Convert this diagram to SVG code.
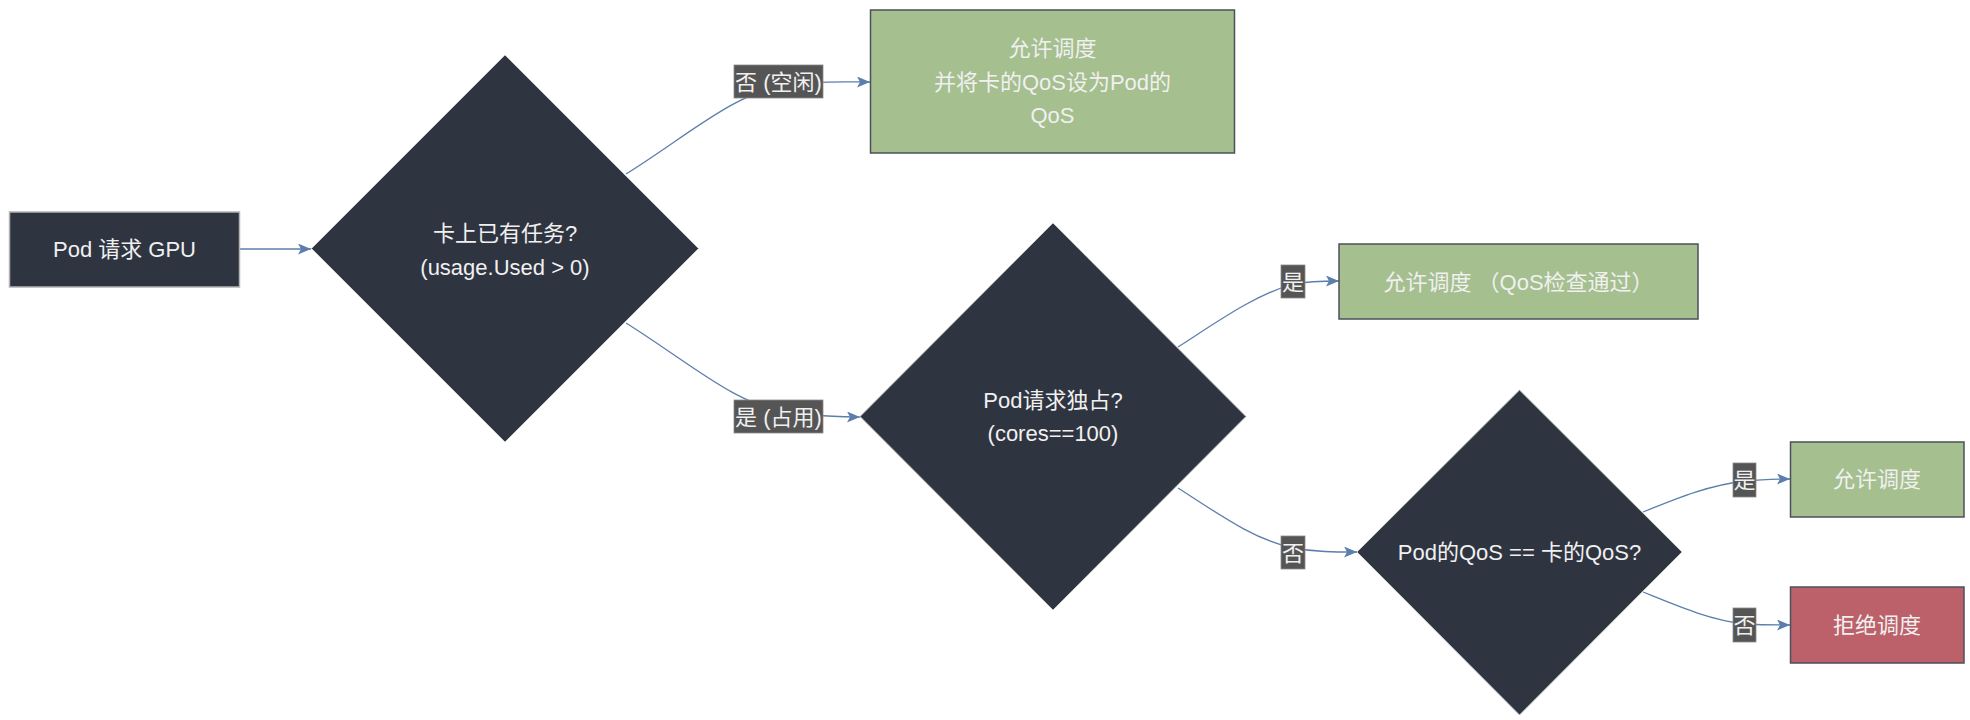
<svg xmlns="http://www.w3.org/2000/svg" width="1970" height="720" viewBox="0 0 1970 720">
<defs>
<style>
text{font-family:"Liberation Sans","Noto Sans CJK SC",sans-serif;font-size:22px;fill:#f0f0f0;text-anchor:middle;dominant-baseline:central}
.dia{fill:#2f3441;stroke:#c8c8c8;stroke-width:1}
.start{fill:#2f3441;stroke:#b3b3b3;stroke-width:1.5}
.ok{fill:#a5bf8f;stroke:#4b505c;stroke-width:1.5}
.no{fill:#bc606a;stroke:#4b505c;stroke-width:1.5}
.edge{fill:none;stroke:#5b7fad;stroke-width:1.3;marker-end:url(#arr)}
.lbg{fill:#555555;stroke:#8a8a8a;stroke-width:0.8}
</style>
<marker id="arr" viewBox="0 0 13 11" refX="13" refY="5.5" markerWidth="13" markerHeight="11" markerUnits="userSpaceOnUse" orient="auto">
<path d="M0,0 L13,5.5 L0,11 L3,5.5 Z" fill="#5b7fad"/>
</marker>
</defs>
<rect width="1970" height="720" fill="#ffffff"/>
<g id="connectors">
<path class="edge" d="M240,249 L311,249"/>
<path class="edge" d="M626,174 C690,134 735,92 790,84 C820,81 845,82 870,82"/>
<path class="edge" d="M626,323 C690,363 735,405 790,413 C820,416 840,417 860,417"/>
<path class="edge" d="M1178,347 C1220,320 1255,295 1293,284 C1310,281 1325,281 1339,281"/>
<path class="edge" d="M1178,488 C1220,515 1255,540 1293,548 C1315,552 1335,552 1357,552"/>
<path class="edge" d="M1643,512 C1680,497 1710,485 1745,481 C1765,479 1778,479 1790,479"/>
<path class="edge" d="M1643,592 C1680,607 1710,620 1745,624 C1765,625 1778,625 1790,625"/>
<g id="edge-labels">
<rect class="lbg" x="734" y="65" width="89" height="33"/>
<text x="778.5" y="82">否 (空闲)</text>
<rect class="lbg" x="734" y="400" width="89" height="33"/>
<text x="778.5" y="417">是 (占用)</text>
<rect class="lbg" x="1281" y="265" width="24" height="33"/>
<text x="1293" y="282">是</text>
<rect class="lbg" x="1281" y="536" width="24" height="33"/>
<text x="1293" y="553">否</text>
<rect class="lbg" x="1733" y="463" width="23" height="34"/>
<text x="1744.5" y="480">是</text>
<rect class="lbg" x="1733" y="608" width="23" height="34"/>
<text x="1744.5" y="625">否</text>
</g>
</g>
<g id="start">
<rect class="start" x="9.5" y="212" width="230" height="75"/>
<text x="124.5" y="249.5">Pod 请求 GPU</text>
</g>
<g id="d1">
<polygon class="dia" points="505,55 698.5,248.5 505,442 311.5,248.5"/>
<text x="505" y="233">卡上已有任务?</text>
<text x="505" y="267">(usage.Used &gt; 0)</text>
</g>
<g id="allow1">
<rect class="ok" x="870.5" y="10" width="364" height="143"/>
<text x="1052.5" y="48">允许调度</text>
<text x="1052.5" y="82">并将卡的QoS设为Pod的</text>
<text x="1052.5" y="115">QoS</text>
</g>
<g id="d2">
<polygon class="dia" points="1053,223 1246,416.5 1053,610 860,416.5"/>
<text x="1053" y="400">Pod请求独占?</text>
<text x="1053" y="433">(cores==100)</text>
</g>
<g id="allow2">
<rect class="ok" x="1339" y="244" width="359" height="75"/>
<text x="1518.5" y="282">允许调度 （QoS检查通过）</text>
</g>
<g id="d3">
<polygon class="dia" points="1519.5,390 1682,552 1519.5,715 1357,552"/>
<text x="1519.5" y="552.5">Pod的QoS == 卡的QoS?</text>
</g>
<g id="allow3">
<rect class="ok" x="1790.5" y="442" width="173.5" height="75"/>
<text x="1877" y="479.5">允许调度</text>
</g>
<g id="reject">
<rect class="no" x="1790.5" y="587" width="173.5" height="76"/>
<text x="1877" y="625">拒绝调度</text>
</g>
</svg>
